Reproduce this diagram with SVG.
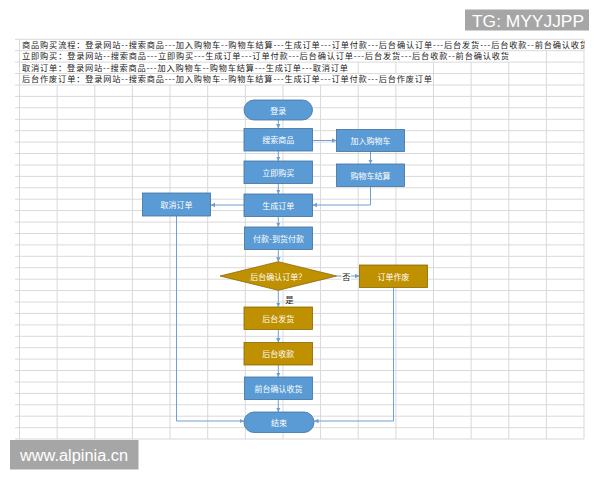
<svg xmlns="http://www.w3.org/2000/svg" width="600" height="480" viewBox="0 0 600 480">
<style>
.bg{fill:#ffffff}
.g{stroke:#d9d9d9;stroke-width:1;fill:none}
.hdr{font-family:"Noto Sans CJK SC","Noto Sans",sans-serif;font-size:8.2px;fill:#1a1a1a}
.blue{fill:#5b9bd5;stroke:#41719c;stroke-width:0.8}
.gold{fill:#bf9000;stroke:#8a6800;stroke-width:0.8}
.nt{font-family:"Noto Sans CJK SC","Noto Sans",sans-serif;font-size:8px;fill:#ffffff;text-anchor:middle;dominant-baseline:central}
.lbl{font-family:"Noto Sans CJK SC","Noto Sans",sans-serif;font-size:8.5px;fill:#222;text-anchor:middle;dominant-baseline:central}
.c{stroke:#6f9fd3;stroke-width:1;fill:none;marker-end:url(#ah)}
.wm{fill:#a6a6a6}
.wt{font-family:"Liberation Sans",Arial,sans-serif;fill:#ffffff}
</style>
<defs>
<marker id="ah" viewBox="0 0 10 10" refX="10" refY="5" markerWidth="4.5" markerHeight="4.5" orient="auto" markerUnits="userSpaceOnUse">
<path d="M0,0 L10,5 L0,10 z" fill="#6f9fd3"/>
</marker>
<clipPath id="sheet"><rect x="15" y="39" width="569.5" height="401"/></clipPath>
</defs>
<rect class="bg" x="0" y="0" width="600" height="480"/>
<g id="grid" class="g">
<path d="M15,39.3H584 M15,50.7H584 M15,62.1H584 M15,73.6H584 M15,85H584 M15,96.4H584 M15,107.8H584 M15,119.3H584 M15,130.7H584 M15,142.1H584 M15,153.5H584 M15,165H584 M15,176.4H584 M15,187.8H584 M15,199.2H584 M15,210.6H584 M15,222.1H584 M15,233.5H584 M15,244.9H584 M15,256.3H584 M15,267.7H584 M15,279.2H584 M15,290.6H584 M15,302H584 M15,313.4H584 M15,324.9H584 M15,336.3H584 M15,347.7H584 M15,359.1H584 M15,370.5H584 M15,382H584 M15,393.4H584 M15,404.8H584 M15,416.2H584 M15,427.7H584 M15,439H584"/>
<path d="M19.5,39.3V439 M57.1,85V439 M94.8,85V439 M132.4,85V439 M170,85V439 M207.7,85V439 M245.3,85V439 M283,85V439 M320.6,85V439 M358.2,62.1V73.6 M358.2,85V439 M395.9,62.1V73.6 M395.9,85V439 M433.5,62.1V439 M471.1,62.1V439 M508.8,62.1V439 M546.4,50.7V439 M584,39.3V439"/>
</g>
<g id="header" clip-path="url(#sheet)">
<text class="hdr" x="22" y="48" textLength="566" lengthAdjust="spacing">商品购买流程：登录网站--搜索商品---加入购物车--购物车结算---生成订单---订单付款---后台确认订单---后台发货---后台收款--前台确认收货</text>
<text class="hdr" x="22" y="59.4" textLength="487" lengthAdjust="spacing">立即购买：登录网站--搜索商品---立即购买---生成订单---订单付款---后台确认订单---后台发货---后台收款--前台确认收货</text>
<text class="hdr" x="22" y="70.8" textLength="326" lengthAdjust="spacing">取消订单：登录网站--搜索商品---加入购物车--购物车结算---生成订单---取消订单</text>
<text class="hdr" x="22" y="82.3" textLength="410" lengthAdjust="spacing">后台作废订单：登录网站--搜索商品---加入购物车--购物车结算---生成订单---订单付款---后台作废订单</text>
</g>
<g id="connectors">
<path class="c" d="M278.3,120V128.5"/>
<path class="c" d="M312.5,140.5H336.5"/>
<path class="c" d="M370.5,151.5V164"/>
<path class="c" d="M278.3,151V161"/>
<path class="c" d="M278.3,183.5V194"/>
<path class="c" d="M370.5,186.5V205H312.5"/>
<path class="c" d="M244,205H210.5"/>
<path class="c" d="M278.3,216.5V227"/>
<path class="c" d="M278.3,249.5V261.7"/>
<path class="c" d="M336.7,276H359.5"/>
<path class="c" d="M278.3,290.3V307"/>
<path class="c" d="M278.3,329.5V342.5"/>
<path class="c" d="M278.3,365V377"/>
<path class="c" d="M278.3,399.5V412"/>
<path class="c" d="M176.5,216V421H244"/>
<path class="c" d="M393.5,287.5V421H314"/>
<rect x="341.5" y="270" width="9.5" height="12" fill="#ffffff"/>
<text class="lbl" x="346.2" y="276">否</text>
<text class="lbl" x="289.5" y="298.5">是</text>
</g>
<g id="n-login"><rect class="blue" x="244" y="100" width="68.5" height="20" rx="10"/><text class="nt" x="278.3" y="110">登录</text></g>
<g id="n-search"><rect class="blue" x="244" y="128.5" width="68.5" height="22.5"/><text class="nt" x="278.3" y="139.8">搜索商品</text></g>
<g id="n-addcart"><rect class="blue" x="336.5" y="129.5" width="68" height="22"/><text class="nt" x="370.5" y="140.5">加入购物车</text></g>
<g id="n-buynow"><rect class="blue" x="244" y="161" width="68.5" height="22.5"/><text class="nt" x="278.3" y="172.2">立即购买</text></g>
<g id="n-checkout"><rect class="blue" x="336.5" y="164" width="68" height="22.5"/><text class="nt" x="370.5" y="175.2">购物车结算</text></g>
<g id="n-cancel"><rect class="blue" x="142.5" y="193" width="68" height="23"/><text class="nt" x="176.5" y="204.5">取消订单</text></g>
<g id="n-order"><rect class="blue" x="244" y="194" width="68.5" height="22.5"/><text class="nt" x="278.3" y="205.2">生成订单</text></g>
<g id="n-pay"><rect class="blue" x="244.5" y="227" width="68" height="22.5"/><text class="nt" x="278.5" y="238.2">付款-到货付款</text></g>
<g id="n-confirm"><polygon class="gold" points="220,276 278.3,261.7 336.7,276 278.3,290.3"/><text class="nt" x="278.3" y="276">后台确认订单？</text></g>
<g id="n-void"><rect class="gold" x="359.5" y="265" width="68" height="22.5"/><text class="nt" x="393.5" y="276.2">订单作废</text></g>
<g id="n-ship"><rect class="gold" x="244" y="307" width="68.5" height="22.5"/><text class="nt" x="278.3" y="318.2">后台发货</text></g>
<g id="n-collect"><rect class="gold" x="244" y="342.5" width="68.5" height="22.5"/><text class="nt" x="278.3" y="353.7">后台收款</text></g>
<g id="n-receive"><rect class="blue" x="244.5" y="377" width="68" height="22.5"/><text class="nt" x="278.5" y="388.2">前台确认收货</text></g>
<g id="n-end"><rect class="blue" x="244" y="412" width="70" height="20.5" rx="10"/><text class="nt" x="279" y="422.2">结束</text></g>
<g id="watermarks">
<rect class="wm" x="465" y="9.5" width="124" height="21"/>
<text class="wt" x="472" y="26.5" font-size="17" textLength="112" lengthAdjust="spacingAndGlyphs">TG: MYYJJPP</text>
<rect class="wm" x="10" y="440" width="128.5" height="29.5"/>
<text class="wt" x="20" y="460.5" font-size="16" textLength="108" lengthAdjust="spacingAndGlyphs">www.alpinia.cn</text>
</g>
</svg>
